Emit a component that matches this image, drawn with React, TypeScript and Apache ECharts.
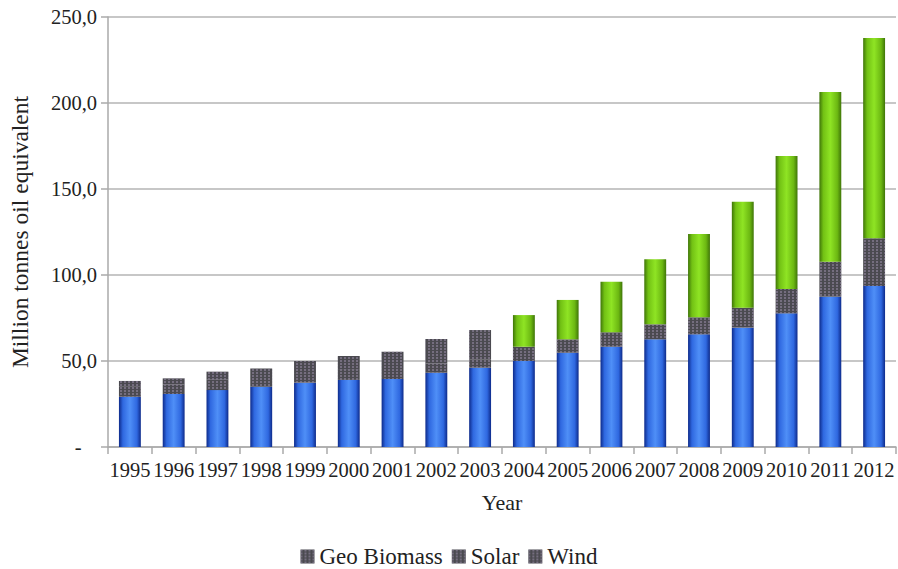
import React, { useEffect, useRef } from "react";
import * as echarts from "echarts";

const years = ["1995","1996","1997","1998","1999","2000","2001","2002","2003","2004","2005","2006","2007","2008","2009","2010","2011","2012"];
const geoBiomass = [29.2, 30.8, 33.1, 35.1, 37.4, 39.0, 39.5, 43.2, 46.1, 50.0, 54.8, 58.3, 62.6, 65.5, 69.4, 77.7, 87.4, 93.6];
const solar = [5.8, 5.6, 6.0, 5.6, 5.6, 5.8, 5.3, 5.4, 4.9, 8.3, 7.8, 8.4, 8.7, 9.9, 11.6, 14.2, 20.3, 27.7];
const wind = [3.4, 3.5, 4.7, 5.0, 7.0, 8.1, 10.6, 14.2, 17.0, 18.4, 22.9, 29.4, 37.8, 48.4, 61.6, 77.3, 98.7, 116.5];
const firstGreenYear = "2004";

const FONT = "Liberation Serif";

const patternColor = "#4b4a50";
const patternDecal = {
  symbol: "rect",
  symbolSize: 1,
  color: "rgba(150,140,165,0.55)",
  dashArrayX: [2, 2],
  dashArrayY: [2, 1],
  rotation: 0,
};

const blueGrad = new echarts.graphic.LinearGradient(0, 0, 1, 0, [
  { offset: 0, color: "#0d2a8a" },
  { offset: 0.18, color: "#2f68e0" },
  { offset: 0.5, color: "#4f8ff7" },
  { offset: 0.82, color: "#2f68e0" },
  { offset: 1, color: "#0d2a8a" },
]);
const greenGrad = new echarts.graphic.LinearGradient(0, 0, 1, 0, [
  { offset: 0, color: "#3f7508" },
  { offset: 0.18, color: "#72c114" },
  { offset: 0.5, color: "#8fe424" },
  { offset: 0.82, color: "#6cb812" },
  { offset: 1, color: "#3f7508" },
]);

const legendIcon = { color: patternColor, decal: patternDecal, borderWidth: 0, borderColor: patternColor };

export default function App() {
  const ref = useRef<HTMLDivElement>(null);
  useEffect(() => {
    if (!ref.current) return;
    const chart = echarts.init(ref.current, null, { renderer: "svg" });
    const greenIdx = years.indexOf(firstGreenYear);
    const windData = wind.map((v, i) =>
      i < greenIdx
        ? { value: v, itemStyle: { color: patternColor, decal: patternDecal } }
        : { value: v, itemStyle: { color: greenGrad } }
    );
    chart.setOption({
      animation: false,
      backgroundColor: "#ffffff",
      textStyle: { fontFamily: FONT },
      grid: { left: 104, right: 2, top: 17, bottom: 122, containLabel: false },
      legend: {
        top: 540,
        left: "center",
        itemWidth: 14,
        itemHeight: 14,
        itemGap: 9,
        icon: "rect",
        itemStyle: legendIcon,
        textStyle: { fontFamily: FONT, fontSize: 23, color: "#222" },
        data: [
          { name: "Geo Biomass", itemStyle: legendIcon },
          { name: "Solar", itemStyle: legendIcon },
          { name: "Wind", itemStyle: legendIcon },
        ],
      },
      xAxis: {
        type: "category",
        data: years,
        name: "Year",
        nameLocation: "middle",
        nameGap: 44,
        nameTextStyle: { fontFamily: FONT, fontSize: 22, color: "#222" },
        axisLine: { lineStyle: { color: "#aaaaaa", width: 1.5 } },
        axisTick: { show: true, alignWithLabel: false, length: 7, lineStyle: { color: "#aaaaaa", width: 1.5 } },
        axisLabel: { fontFamily: FONT, fontSize: 20.5, color: "#222", margin: 12, interval: 0 },
      },
      yAxis: {
        type: "value",
        min: 0,
        max: 250,
        interval: 50,
        name: "Million tonnes oil equivalent",
        nameLocation: "middle",
        nameGap: 76,
        nameRotate: 90,
        nameTextStyle: { fontFamily: FONT, fontSize: 23.5, color: "#222" },
        axisLine: { show: true, lineStyle: { color: "#aaaaaa", width: 1.5 } },
        axisTick: { show: true, inside: false, length: 7, lineStyle: { color: "#aaaaaa", width: 1.5 } },
        splitLine: { show: true, lineStyle: { color: "#b5b5b5", width: 1.5 } },
        axisLabel: {
          fontFamily: FONT,
          fontSize: 20.5,
          color: "#222",
          margin: 11,
          formatter: (v: number) => (v === 0 ? "-\u00a0\u00a0\u00a0" : v.toFixed(1).replace(".", ",")),
        },
      },
      series: [
        {
          name: "Geo Biomass",
          type: "bar",
          stack: "total",
          barWidth: "50%",
          data: geoBiomass,
          itemStyle: { color: blueGrad },
        },
        {
          name: "Solar",
          type: "bar",
          stack: "total",
          data: solar,
          itemStyle: { color: patternColor, decal: patternDecal },
        },
        {
          name: "Wind",
          type: "bar",
          stack: "total",
          data: windData,
          itemStyle: { color: greenGrad },
        },
      ],
    });
    return () => chart.dispose();
  }, []);
  return (
    <div
      ref={ref}
      style={{ position: "fixed", left: 0, top: 0, width: 898, height: 569 }}
    />
  );
}
